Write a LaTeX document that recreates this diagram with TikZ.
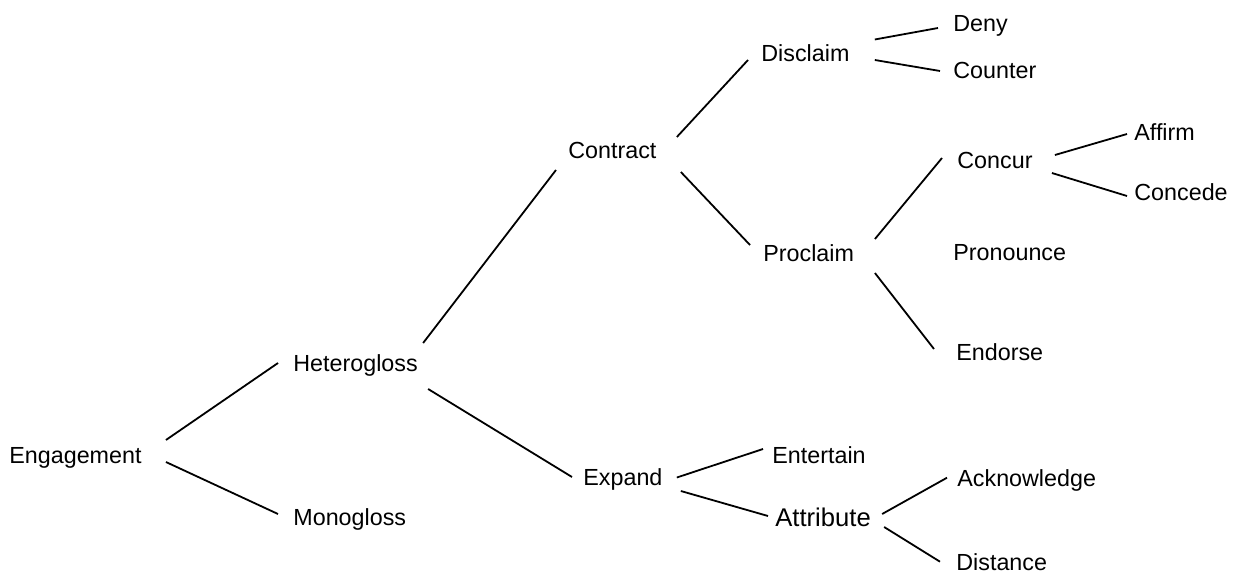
\documentclass[tikz,border=0pt]{standalone}
\usepackage{fontspec}
\setmainfont{Liberation Sans}
\usetikzlibrary{calc}

\begin{document}
\begin{tikzpicture}[x=0.5pt, y=-0.5pt,
    lbl/.style={anchor=west, inner sep=0pt, text height=8.35pt, text depth=0pt, font=\fontsize{11.65}{14}\selectfont},
    big/.style={text height=9.15pt, font=\fontsize{12.8}{15}\selectfont},
    br/.style={black, line width=0.9pt}]
    \useasboundingbox (0,0) rectangle (1236,573);
    \node[lbl] (eng) at (9, 455.5) {Engagement};
    \node[lbl] (het) at (293, 363.5) {Heterogloss};
    \node[lbl] (mono) at (293, 516.7) {Monogloss};
    \node[lbl] (ctr) at (568, 150.5) {Contract};
    \node[lbl] (exd) at (583, 477.5) {Expand};
    \node[lbl] (dis) at (761, 53.5) {Disclaim};
    \node[lbl] (pro) at (763, 253.5) {Proclaim};
    \node[lbl] (deny) at (953, 23) {Deny};
    \node[lbl] (ctn) at (953, 70) {Counter};
    \node[lbl] (ccr) at (957, 160) {Concur};
    \node[lbl] (prn) at (953, 252.5) {Pronounce};
    \node[lbl] (endo) at (956, 351.7) {Endorse};
    \node[lbl] (aff) at (1134, 132.5) {Affirm};
    \node[lbl] (ccd) at (1134, 191.7) {Concede};
    \node[lbl] (ent) at (772, 455) {Entertain};
    \node[lbl, big] (att) at (775, 517.5) {Attribute};
    \node[lbl] (ack) at (957, 477.7) {Acknowledge};
    \node[lbl] (dst) at (956, 561.7) {Distance};
    \draw[br] ($(eng.east)+(24,-15.5)$) -- ($(het.west)+(-15,-0.5)$);
    \draw[br] ($(eng.east)+(24,6.5)$) -- ($(mono.west)+(-15,-2.7)$);
    \draw[br] ($(het.east)+(5,-20.5)$) -- ($(ctr.west)+(-12,19.5)$);
    \draw[br] ($(het.east)+(10,25.5)$) -- ($(exd.west)+(-11,-0.5)$);
    \draw[br] ($(ctr.east)+(20,-13.5)$) -- ($(dis.west)+(-13,6.5)$);
    \draw[br] ($(ctr.east)+(24,21.5)$) -- ($(pro.west)+(-13,-8.5)$);
    \draw[br] ($(dis.east)+(25,-14)$) -- ($(deny.west)+(-15,5)$);
    \draw[br] ($(dis.east)+(25,6.5)$) -- ($(ctn.west)+(-13,1)$);
    \draw[br] ($(pro.east)+(20.5,-14.5)$) -- ($(ccr.west)+(-15,-2)$);
    \draw[br] ($(pro.east)+(20.5,19.5)$) -- ($(endo.west)+(-22,-2.7)$);
    \draw[br] ($(ccr.east)+(22,-5)$) -- ($(aff.west)+(-7,1.5)$);
    \draw[br] ($(ccr.east)+(19,13)$) -- ($(ccd.west)+(-7,4.3)$);
    \draw[br] ($(exd.east)+(14,0)$) -- ($(ent.west)+(-9,-6)$);
    \draw[br] ($(exd.east)+(18,13.5)$) -- ($(att.west)+(-7,-1.5)$);
    \draw[br] ($(att.east)+(11,-3.5)$) -- ($(ack.west)+(-10,0)$);
    \draw[br] ($(att.east)+(13,9.5)$) -- ($(dst.west)+(-16,0)$);
\end{tikzpicture}
\end{document}
